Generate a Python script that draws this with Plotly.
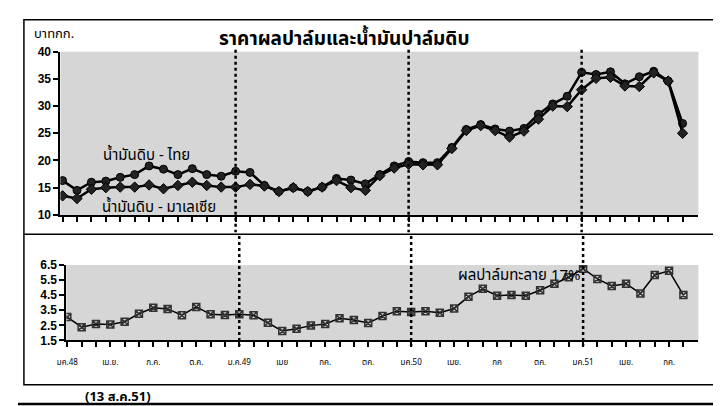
import plotly.graph_objects as go

W, H = 721, 406

# ---------------- data ----------------
# months from ม.ค.48 (Jan 2005) to ส.ค.51 (Aug 2008)
month_index = list(range(44))

thai_cpo = [16.3, 14.5, 16.0, 16.2, 16.9, 17.4, 19.0, 18.4, 17.4, 18.5, 17.4, 17.1,
            18.0, 17.8, 15.4, 14.3, 15.0, 14.3, 15.1, 16.7, 16.4, 15.7, 17.4, 19.0,
            19.8, 19.6, 19.6, 22.4, 25.7, 26.6, 25.8, 25.4, 25.9, 28.5, 30.4, 31.8,
            36.2, 35.8, 36.3, 34.1, 35.4, 36.4, 34.6, 26.8]
malay_cpo = [13.5, 13.0, 14.7, 15.0, 15.1, 15.1, 15.5, 14.8, 15.4, 16.0, 15.4, 15.1,
             15.1, 15.6, 15.3, 14.3, 15.0, 14.3, 15.1, 16.3, 15.0, 14.5, 17.2, 18.6,
             19.3, 19.2, 19.2, 22.2, 25.5, 26.4, 25.5, 24.3, 25.4, 27.6, 30.0, 29.9,
             33.0, 35.1, 35.3, 33.7, 33.6, 36.1, 34.6, 25.0]
ffb_17 = [3.05, 2.38, 2.59, 2.55, 2.74, 3.27, 3.66, 3.59, 3.17, 3.72, 3.23, 3.19,
          3.23, 3.17, 2.67, 2.12, 2.27, 2.48, 2.59, 2.97, 2.85, 2.65, 3.12, 3.44,
          3.38, 3.44, 3.34, 3.62, 4.40, 4.92, 4.47, 4.51, 4.47, 4.83, 5.26, 5.69,
          6.26, 5.58, 5.11, 5.26, 4.62, 5.84, 6.12, 4.51]

tick_pos = [0, 3, 6, 9, 12, 15, 18, 21, 24, 27, 30, 33, 36, 39, 42]
tick_labels = ["มค.48", "เม.ย.", "ก.ค.", "ต.ค.", "ม.ค.49", "เมย", "กค.", "ตค.",
               "มค.50", "เมย.", "กค", "ตค.", "มค.51", "เมย.", "กค."]
year_starts = [12, 24, 36]

top_ticks = [10, 15, 20, 25, 30, 35, 40]
bottom_ticks = [1.5, 2.5, 3.5, 4.5, 5.5, 6.5]
bottom_tick_text = ["1.5", "2.5", "3.5", "4.5", "5.5", "6.5"]

# ---------------- helpers ----------------
def px(x):
    return x / W

def py(y):
    return 1 - y / H

THAI = "Noto Sans Thai, Noto Serif Thai, Loma, Garuda, Tlwg Typo, Noto Sans, sans-serif"
NUM = "Liberation Sans, Arial, sans-serif"

fig = go.Figure()

fig.add_trace(go.Scatter(
    x=month_index, y=thai_cpo, mode="lines+markers", name="น้ำมันดิบ - ไทย",
    line=dict(color="black", width=2.5),
    marker=dict(symbol="circle", size=8, color="#222222", line=dict(color="black", width=1)),
    xaxis="x", yaxis="y"))
fig.add_trace(go.Scatter(
    x=month_index, y=malay_cpo, mode="lines+markers", name="น้ำมันดิบ - มาเลเซีย",
    line=dict(color="black", width=2.5),
    marker=dict(symbol="diamond", size=8, color="#222222", line=dict(color="black", width=1)),
    xaxis="x", yaxis="y"))
fig.add_trace(go.Scatter(
    x=month_index, y=ffb_17, mode="lines+markers", name="ผลปาล์มทะลาย 17%",
    line=dict(color="black", width=1.5),
    marker=dict(symbol="square-x-open", size=7, color="#333333", line=dict(width=1.5)),
    xaxis="x2", yaxis="y2"))

axis_common = dict(showline=True, linecolor="black", linewidth=2, ticks="outside",
                   tickcolor="black", tickwidth=2, ticklen=5, showgrid=False,
                   zeroline=False, mirror=False)

fig.update_layout(
    width=W, height=H,
    margin=dict(l=0, r=0, t=0, b=0),
    paper_bgcolor="white",
    plot_bgcolor="#d6d6d6",
    showlegend=False,
    xaxis=dict(domain=[px(43), px(690)], range=[-0.15, 44.1], anchor="y",
               tickvals=month_index, showticklabels=False, **axis_common),
    yaxis=dict(domain=[py(207), py(38)], range=[10, 40], anchor="x",
               tickvals=top_ticks,
               tickfont=dict(family=NUM, size=12, color="black", weight="bold"),
               **axis_common),
    xaxis2=dict(domain=[px(49), px(690)], range=[-0.07, 44.05], anchor="y2",
                tickvals=month_index,
                ticktext=[tick_labels[tick_pos.index(i)] if i in tick_pos else "" for i in month_index],
                tickfont=dict(family=THAI, size=8, color="black"),
                ticklabelstandoff=8, tickangle=0,
                **axis_common),
    yaxis2=dict(domain=[py(337), py(259)], range=[1.5, 6.5], anchor="x2",
                tickvals=bottom_ticks, ticktext=bottom_tick_text,
                tickfont=dict(family=NUM, size=12, color="black", weight="bold"),
                **axis_common),
)

shapes = []
for m in year_starts:
    shapes.append(dict(type="line", xref="x", yref="paper", x0=m, x1=m,
                       y0=py(36), y1=py(225), line=dict(color="black", width=2.5, dash="dot")))
    shapes.append(dict(type="line", xref="x2", yref="paper", x0=m, x1=m,
                       y0=py(229), y1=py(343), line=dict(color="black", width=2.5, dash="dot")))
# frames
shapes.append(dict(type="rect", xref="paper", yref="paper", x0=px(6), x1=px(718),
                   y0=py(383), y1=py(5), line=dict(color="black", width=1.5)))
shapes.append(dict(type="line", xref="paper", yref="paper", x0=px(6), x1=px(718),
                   y0=py(227), y1=py(227), line=dict(color="black", width=1.5)))
shapes.append(dict(type="line", xref="paper", yref="paper", x0=0, x1=1,
                   y0=py(403), y1=py(403), line=dict(color="black", width=2.5)))
fig.update_layout(shapes=shapes)

annotations = [
    dict(text="<b>ราคาผลปาล์มและน้ำมันปาล์มดิบ</b>", x=px(331), y=py(25),
         font=dict(family=THAI, size=19, color="black")),
    dict(text="บาทกก.", x=px(37), y=py(20), font=dict(family=THAI, size=13, color="black")),
    dict(text="น้ำมันดิบ - ไทย", x=px(130), y=py(146), font=dict(family=THAI, size=15, color="black")),
    dict(text="น้ำมันดิบ - มาเลเซีย", x=px(143), y=py(199), font=dict(family=THAI, size=15, color="black")),
    dict(text="ผลปาล์มทะลาย 17%", x=px(509), y=py(270), font=dict(family=THAI, size=15, color="black")),
    dict(text="<b>(13 ส.ค.51)</b>", x=px(101), y=py(396), font=dict(family=THAI, size=13, color="black")),
]
for a in annotations:
    a.update(xref="paper", yref="paper", showarrow=False, xanchor="center", yanchor="middle")
fig.update_layout(annotations=annotations)

fig.write_html("out.html")
